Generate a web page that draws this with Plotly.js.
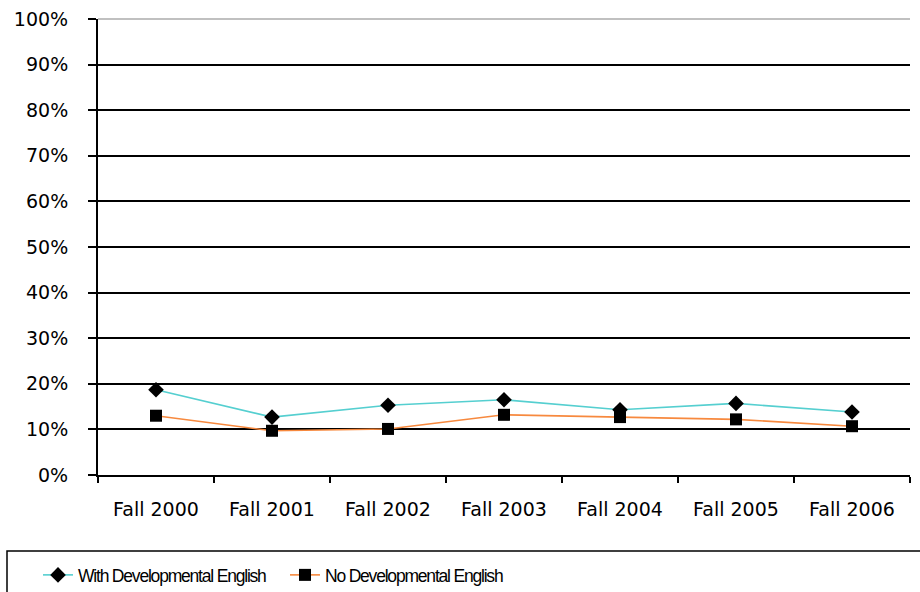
<!DOCTYPE html>
<html>
<head>
<meta charset="utf-8">
<script src="https://cdn.plot.ly/plotly-3.0.1.min.js"></script>
<style>html,body{margin:0;padding:0;background:#fff;}#chart{width:920px;height:592px;}#chart .legendtext{letter-spacing:-1.2px;}</style>
</head>
<body>
<div id="chart"></div>
<script>
var categories = ["Fall 2000","Fall 2001","Fall 2002","Fall 2003","Fall 2004","Fall 2005","Fall 2006"];
var withDev = [0.187, 0.127, 0.153, 0.165, 0.143, 0.157, 0.138];
var noDev = [0.130, 0.097, 0.101, 0.132, 0.127, 0.122, 0.107];
var seriesNames = ["With Developmental English","No Developmental English"];
var yTickVals = [0,0.1,0.2,0.3,0.4,0.5,0.6,0.7,0.8,0.9,1.0];
var yTickText = ["0%","10%","20%","30%","40%","50%","60%","70%","80%","90%","100%"];

var font = "DejaVu Sans, Liberation Sans, Arial, sans-serif";
var legFont = "Liberation Sans, Arial, sans-serif";
var traces = [
  {x: categories, y: withDev, name: seriesNames[0], type: "scatter", mode: "lines+markers",
   line: {color: "#55CFD0", width: 1.6}, marker: {symbol: "diamond", size: 12, color: "#000"}},
  {x: categories, y: noDev, name: seriesNames[1], type: "scatter", mode: "lines+markers",
   line: {color: "#F7893E", width: 1.6}, marker: {symbol: "square", size: 12, color: "#000"}}
];
var W = 812, H = 456, L = 98, T = 19;
function px(p){return (p-L)/W;}
function py(p){return (T+H-p)/H;}
var layout = {
  width: 920, height: 592,
  margin: {l: L, r: 920-L-W, t: T, b: 592-T-H, autoexpand: false},
  paper_bgcolor: "#fff", plot_bgcolor: "#fff",
  font: {family: font, size: 19, color: "#000"},
  showlegend: true,
  xaxis: {type: "category", tickson: "boundaries", ticks: "outside", ticklen: 6, tickcolor: "#000", tickwidth: 2,
    showline: true, linecolor: "#000", linewidth: 2, showgrid: false, zeroline: false, ticklabelstandoff: 16,
    range: [-0.5, 6.5], tickfont: {size: 19, family: font}, automargin: false},
  yaxis: {range: [0, 1], tickvals: yTickVals, ticktext: yTickText, ticks: "outside", ticklen: 8, tickcolor: "#000", tickwidth: 2,
    showline: true, linecolor: "#000", linewidth: 2, showgrid: true, gridcolor: "#000", gridwidth: 2, zeroline: false,
    ticklabelstandoff: 16, tickfont: {size: 19, family: font}, automargin: false},
  legend: {orientation: "h", x: px(38), xanchor: "left", y: py(557), yanchor: "top",
    font: {size: 17.5, family: legFont}, bgcolor: "rgba(0,0,0,0)", borderwidth: 0, entrywidth: 202, entrywidthmode: "pixels"},
  shapes: [
    {type: "line", xref: "paper", yref: "paper", x0: 0, x1: 1, y0: 1, y1: 1, line: {color: "#C0C0C0", width: 2}, layer: "above"},
    {type: "rect", xref: "paper", yref: "paper", x0: px(7), x1: px(930), y0: py(551), y1: py(600), line: {color: "#000", width: 1.5}, fillcolor: "rgba(0,0,0,0)"}
  ]
};
Plotly.newPlot("chart", traces, layout, {displayModeBar: false, staticPlot: true});
</script>
</body>
</html>
